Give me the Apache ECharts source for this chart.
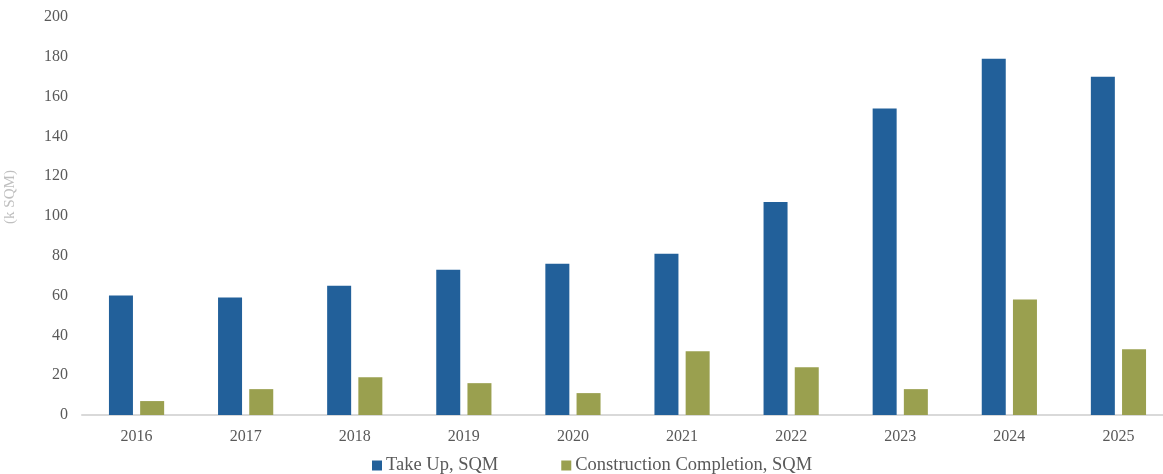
<!DOCTYPE html>
<html>
<head>
<meta charset="utf-8">
<script src="https://cdn.jsdelivr.net/npm/echarts@6/dist/echarts.min.js"></script>
<style>html,body{margin:0;padding:0;background:#fff;}#c{width:1163px;height:474px;}</style>
</head>
<body>
<div id="c"></div>
<script>
const categories = ['2016','2017','2018','2019','2020','2021','2022','2023','2024','2025'];
const takeUp = [60, 59, 65, 73, 76, 81, 107, 154, 179, 170];
const completion = [7, 13, 19, 16, 11, 32, 24, 13, 58, 33];
const seriesNames = ['Take Up, SQM', 'Construction Completion, SQM'];
const yTicks = {min: 0, max: 200, interval: 20};

const font = 'Liberation Serif';
const chart = echarts.init(document.getElementById('c'));
chart.setOption({
  animation: false,
  grid: {left: 82, top: 17, width: 1091, height: 398, containLabel: false, outerBoundsMode: 'none'},
  legend: {
    left: 367, top: 451,
    itemWidth: 10, itemHeight: 10, itemGap: 63,
    icon: 'rect',
    textStyle: {fontFamily: font, fontSize: 18.5, color: '#595959', padding: [0,0,0,-1]},
    data: seriesNames
  },
  xAxis: {
    type: 'category', data: categories,
    axisLine: {lineStyle: {color: '#d9d9d9', width: 2}},
    axisTick: {show: false},
    axisLabel: {fontFamily: font, fontSize: 16, color: '#595959', margin: 14}
  },
  yAxis: {
    type: 'value', min: yTicks.min, max: yTicks.max, interval: yTicks.interval,
    name: '(k SQM)', nameLocation: 'middle', nameGap: 64, nameRotate: 90,
    nameTextStyle: {fontFamily: font, fontSize: 15, color: '#bfbfbf', padding: [0,0,0,38]},
    axisLine: {show: false}, axisTick: {show: false}, splitLine: {show: false},
    axisLabel: {fontFamily: font, fontSize: 16, color: '#595959', margin: 14}
  },
  series: [
    {name: seriesNames[0], type: 'bar', data: takeUp, barWidth: 24, barGap: '30%',
     itemStyle: {color: '#22609a'}},
    {name: seriesNames[1], type: 'bar', data: completion, barWidth: 24,
     itemStyle: {color: '#9aa04f'}}
  ]
});
</script>
</body>
</html>
